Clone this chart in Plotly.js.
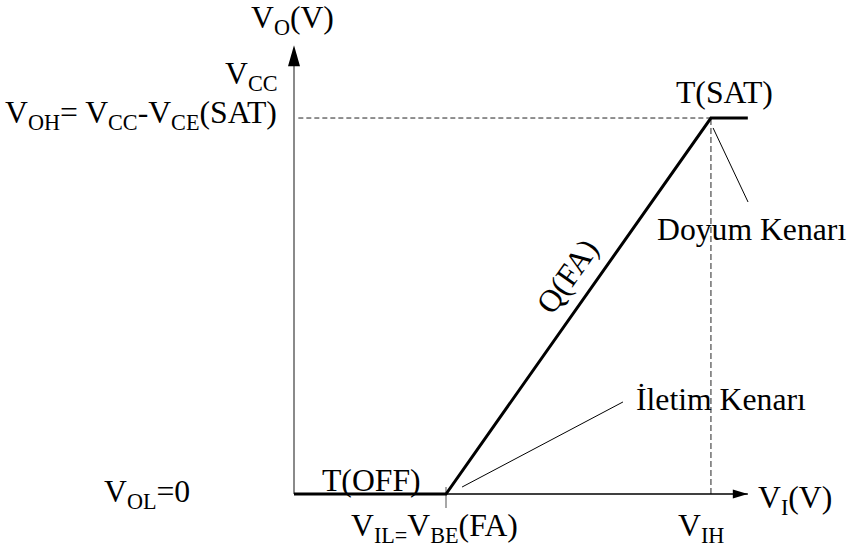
<!DOCTYPE html>
<html>
<head>
<meta charset="utf-8">
<script src="https://cdn.plot.ly/plotly-3.0.1.min.js"></script>
<style>html,body{margin:0;padding:0;background:#fff;}#chart{width:849px;height:548px;}</style>
</head>
<body>
<div id="chart"></div>
<script>
// ---- data (volts) ----
const VIL = 0.70;           // V_IL = V_BE(FA)
const VIH = 1.92;           // V_IH
const VOH = 4.80;           // V_OH = V_CC - V_CE(SAT)
const VI_END = 2.09;        // end of the drawn x axis
const VO_END = 5.73;        // end of the drawn y axis
const curveX = [0, VIL, VIH, VI_END];
const curveY = [0, 0, VOH, VOH];
const xAxisX = [0, VI_END];
const xAxisY = [0, 0];
const yAxisX = [0, 0];
const yAxisY = [0, VO_END - 0.2];
const ilLeaderX = [0.774, 1.515];
const ilLeaderY = [0.089, 1.175];
const satLeaderX = [1.930, 2.091];
const satLeaderY = [4.673, 3.728];
const tickY = [-0.179, 0.089];

const labels = {
  vo: 'V<sub>O</sub>(V)',
  vcc: 'V<sub>CC</sub>',
  voh: 'V<sub>OH</sub>= V<sub>CC</sub>-V<sub>CE</sub>(SAT)',
  vol: 'V<sub>OL</sub>=0',
  toff: 'T(OFF)',
  vil: 'V<sub>IL=</sub>V<sub>BE</sub>(FA)',
  vih: 'V<sub>IH</sub>',
  vi: 'V<sub>I</sub>(V)',
  tsat: 'T(SAT)',
  doyum: 'Doyum Kenarı',
  iletim: 'İletim Kenarı',
  qfa: 'Q(FA)'
};

// ---- layout helpers ----
const W = 849, H = 548;
const px = p => p / W;
const py = p => 1 - p / H;
const FONT = {family: '"Liberation Serif", "Times New Roman", serif', size: 31.7, color: '#000'};

const line = (x, y, color, width, dash) => ({
  type: 'scatter', mode: 'lines', x: x, y: y, hoverinfo: 'skip',
  line: {color: color, width: width, dash: dash || 'solid'}
});

const traces = [
  line(yAxisX, yAxisY, '#8a8a8a', 2),
  line([VIL, VIL], tickY, '#8a8a8a', 1.5),
  line([0.02, VIH], [VOH, VOH], '#222', 1, '5px,3px'),
  line([VIH, VIH], [0, VOH], '#777', 1.6, '6px,3px'),
  line(xAxisX, xAxisY, '#000', 1.5),
  line(ilLeaderX, ilLeaderY, '#000', 1),
  line(satLeaderX, satLeaderY, '#000', 1),
  line(curveX, curveY, '#000', 3)
];

const ann = (text, x, y, opts) => Object.assign({
  text: text, x: x, y: y, xref: 'paper', yref: 'paper',
  showarrow: false, font: FONT, xanchor: 'center', yanchor: 'middle'
}, opts || {});

const annotations = [
  ann(labels.vo, px(292), py(20)),
  ann(labels.vcc, px(280), py(76), {xanchor: 'right'}),
  ann(labels.voh, px(279), VOH, {yref: 'y', xanchor: 'right', yshift: 3}),
  ann(labels.vol, px(102), 0, {yref: 'y', xanchor: 'left', yshift: 0}),
  ann(labels.toff, px(371), 0, {yref: 'y', yshift: 14}),
  ann(labels.vil, VIL, py(528), {xref: 'x', xanchor: 'left', xshift: -97}),
  ann(labels.vih, VIH, py(528), {xref: 'x', xshift: -10}),
  ann(labels.vi, px(756), 0, {yref: 'y', xanchor: 'left', yshift: -6}),
  ann(labels.tsat, px(724), VOH, {yref: 'y', yshift: 26}),
  ann(labels.doyum, px(751), py(229)),
  ann(labels.iletim, px(721), py(399)),
  ann(labels.qfa, px(567), py(276), {textangle: -55})
];

const shapes = [
  {type: 'path', xref: 'x', yref: 'y', xsizemode: 'pixel', ysizemode: 'pixel',
   xanchor: 0, yanchor: VO_END, path: 'M0,0 L-6,-21 L6,-21 Z',
   fillcolor: '#000', line: {width: 0}},
  {type: 'path', xref: 'x', yref: 'y', xsizemode: 'pixel', ysizemode: 'pixel',
   xanchor: VI_END, yanchor: 0, path: 'M0,0 L-15,4.5 L-15,-4.5 Z',
   fillcolor: '#000', line: {width: 0}}
];

const layout = {
  width: W, height: H,
  margin: {l: 0, r: 0, t: 0, b: 0, pad: 0},
  paper_bgcolor: '#fff', plot_bgcolor: '#fff',
  showlegend: false,
  xaxis: {range: [-294 / 217.14, (W - 294) / 217.14], visible: false, fixedrange: true},
  yaxis: {range: [-(H - 494) / 78.33, 494 / 78.33], visible: false, fixedrange: true},
  annotations: annotations,
  shapes: shapes
};

Plotly.newPlot('chart', traces, layout, {staticPlot: true, displayModeBar: false});
</script>
</body>
</html>
